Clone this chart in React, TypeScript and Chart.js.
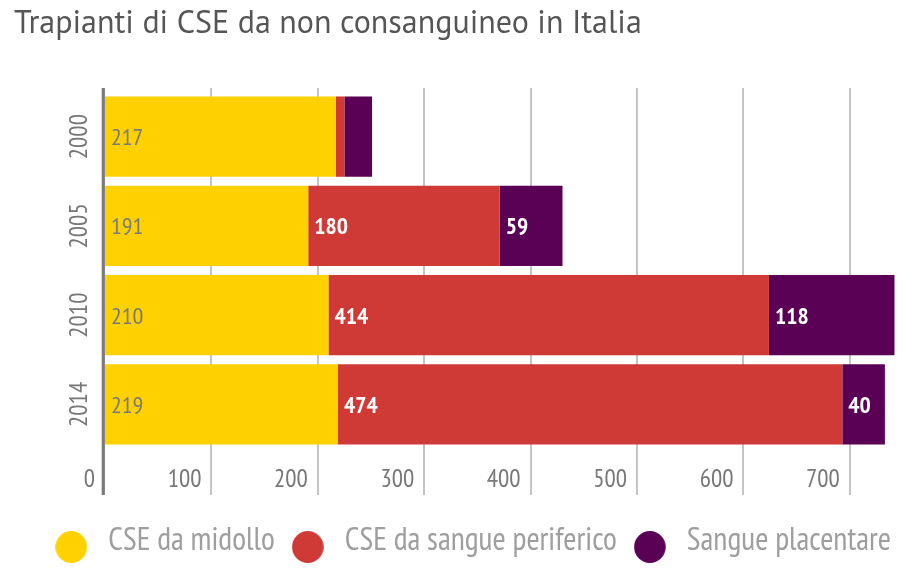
import React, { useEffect, useRef } from "react";
import { Chart, registerables } from "chart.js";

Chart.register(...registerables);

const TITLE = "Trapianti di CSE da non consanguineo in Italia";
const YEARS = ["2000", "2005", "2010", "2014"];
const MIDOLLO = [217, 191, 210, 219];
const PERIFERICO = [8, 180, 414, 474];
const PLACENTARE = [26, 59, 118, 40];
const SERIES_NAMES = ["CSE da midollo", "CSE da sangue periferico", "Sangue placentare"];
const X_TICKS = [0, 100, 200, 300, 400, 500, 600, 700];
const X_MAX = 750;
const MIN_LABEL_VALUE = 35;

const COLORS = ["#FFD100", "#CF3A37", "#5A0055"];
const LABEL_COLORS = ["#7a7a7a", "#ffffff", "#ffffff"];
const TITLE_FONT = "'PT Sans', 'DejaVu Sans', sans-serif";
const FONT = "'PT Sans Narrow', 'PT Sans', 'DejaVu Sans Condensed', sans-serif";

function circleImage(color: string): HTMLCanvasElement {
  const c = document.createElement("canvas");
  c.width = 32;
  c.height = 44;
  const g = c.getContext("2d")!;
  g.fillStyle = color;
  g.beginPath();
  g.ellipse(16, 28, 15.8, 16, 0, 0, Math.PI * 2);
  g.fill();
  return c;
}

const customPlugin = {
  id: "customDraw",
  beforeDatasetsDraw(chart: any) {
    const ctx = chart.ctx;
    const xs = chart.scales.x;
    const area = chart.chartArea;
    ctx.save();
    ctx.strokeStyle = "#c4c4c4";
    ctx.lineWidth = 2;
    X_TICKS.forEach((v) => {
      if (v === 0) return;
      const px = Math.round(xs.getPixelForValue(v));
      ctx.beginPath();
      ctx.moveTo(px, area.top - 4);
      ctx.lineTo(px, area.bottom + 46);
      ctx.stroke();
    });
    ctx.restore();
  },
  afterDatasetsDraw(chart: any) {
    const ctx = chart.ctx;
    const xs = chart.scales.x;
    const ys = chart.scales.y;
    const area = chart.chartArea;
    ctx.save();
    // axis line
    const x0 = xs.getPixelForValue(0);
    ctx.strokeStyle = "#7a7a7a";
    ctx.lineWidth = 3.2;
    ctx.beginPath();
    ctx.moveTo(x0 - 1.7, area.top - 4);
    ctx.lineTo(x0 - 1.7, area.bottom + 46);
    ctx.stroke();

    // data labels
    chart.data.datasets.forEach((ds: any, di: number) => {
      const meta = chart.getDatasetMeta(di);
      meta.data.forEach((bar: any, i: number) => {
        const v = ds.data[i];
        if (v < MIN_LABEL_VALUE) return;
        const start = Math.min(bar.base, bar.x);
        ctx.fillStyle = LABEL_COLORS[di];
        ctx.font = di === 0 ? "24px " + FONT : "bold 23.5px " + FONT;
        ctx.textAlign = "left";
        ctx.textBaseline = "alphabetic";
        ctx.fillText(String(v), start + 6, bar.y + 8.5);
      });
    });

    // x tick labels
    ctx.fillStyle = "#777777";
    ctx.font = "25px " + FONT;
    ctx.textAlign = "right";
    ctx.textBaseline = "alphabetic";
    X_TICKS.forEach((v) => {
      const px = xs.getPixelForValue(v);
      ctx.fillText(String(v), px - 10, area.bottom + 37.5);
    });

    // y tick labels (rotated)
    YEARS.forEach((label, i) => {
      const py = ys.getPixelForValue(i);
      ctx.save();
      ctx.translate(area.left - 18, py);
      ctx.rotate(-Math.PI / 2);
      ctx.textAlign = "center";
      ctx.textBaseline = "alphabetic";
      ctx.font = "25px " + FONT;
      ctx.fillText(label, 0, 0);
      ctx.restore();
    });
    ctx.restore();
  },
};

export default function App() {
  const ref = useRef<HTMLCanvasElement | null>(null);

  useEffect(() => {
    if (!ref.current) return;
    const images = COLORS.map(circleImage);
    const chart = new Chart(ref.current, {
      type: "bar",
      data: {
        labels: YEARS,
        datasets: [MIDOLLO, PERIFERICO, PLACENTARE].map((d, i) => ({
          label: SERIES_NAMES[i],
          data: d,
          backgroundColor: COLORS[i],
          borderWidth: 0,
          barPercentage: 1,
          categoryPercentage: 0.9,
          pointStyle: images[i],
        })),
      },
      options: {
        indexAxis: "y",
        animation: false,
        responsive: false,
        maintainAspectRatio: false,
        layout: { padding: { left: 14, right: 17, top: 0, bottom: 15 } },
        scales: {
          x: {
            stacked: true,
            min: 0,
            max: X_MAX,
            ticks: { display: false, stepSize: 100 },
            grid: { display: false },
            border: { display: false },
            afterFit: (s: any) => {
              s.height = 64;
            },
          },
          y: {
            stacked: true,
            ticks: { display: false },
            grid: { display: false },
            border: { display: false },
            afterFit: (s: any) => {
              s.width = 91;
            },
          },
        },
        plugins: {
          title: {
            display: true,
            text: TITLE,
            align: "start",
            color: "#555555",
            font: { family: TITLE_FONT, size: 32, weight: "normal", lineHeight: 1.2 },
            padding: { top: 5, bottom: 48.6 },
          },
          legend: {
            display: true,
            position: "bottom",
            align: "end",
            labels: {
              usePointStyle: true,
              pointStyleWidth: 42,
              color: "#9e9e9e",
              font: { family: FONT, size: 32 },
              padding: 12,
            },
          },
          tooltip: { enabled: false },
        },
      },
      plugins: [customPlugin],
    });
    return () => chart.destroy();
  }, []);

  return (
    <div style={{ position: "absolute", left: 0, top: 0, width: 920, height: 582, background: "#fff" }}>
      <canvas ref={ref} width={920} height={582} style={{ width: 920, height: 582, display: "block" }} />
    </div>
  );
}
